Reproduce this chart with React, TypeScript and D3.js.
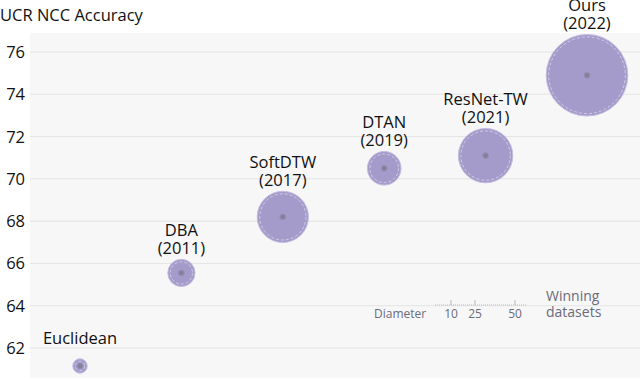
import React from 'react';
import * as d3 from 'd3';

const methods = ['Euclidean', 'DBA', 'SoftDTW', 'DTAN', 'ResNet-TW', 'Ours'];
const years = ['', '(2011)', '(2017)', '(2019)', '(2021)', '(2022)'];
const accuracy = [61.15, 65.55, 68.2, 70.5, 71.1, 74.9];
const wins = [9, 17, 32, 21, 34, 51];
const yTicks = [62, 64, 66, 68, 70, 72, 74, 76];
const legendTicks = [10, 25, 50];

const W = 640;
const H = 380;
const font = '"Open Sans", Roboto, sans-serif';

const App = () => {
  const plot = { left: 30, top: 33, right: W, bottom: 378 };
  const x = d3.scalePoint<string>().domain(methods).range([80, 587]);
  const y = d3.scaleLinear().domain([62, 76]).range([348, 52]);
  const diam = d3.scaleLinear().domain([0, 50]).range([0, 80]);

  // legend axis uses the same px per dataset as the bubbles
  const legendX0 = 435;
  const legendY = 305;
  const lx = (v: number) => legendX0 + diam(v);

  return (
    <svg width={W} height={H} style={{ position: 'absolute', left: 0, top: 0 }}>
      <rect x={plot.left} y={plot.top} width={plot.right - plot.left} height={plot.bottom - plot.top} fill="#f7f7f7" />
      {yTicks.map((t) => (
        <g key={t}>
          <line x1={plot.left} x2={plot.right} y1={y(t)} y2={y(t)} stroke="#e4e4e4" strokeWidth={1} />
          <text x={25} y={y(t) + 6} textAnchor="end" fontFamily={font} fontSize={16.5} fontWeight={500} fill="#111">
            {t}
          </text>
        </g>
      ))}
      <text x={0} y={21} fontFamily={font} fontSize={16.5} fontWeight={500} fill="#111">
        UCR NCC Accuracy
      </text>

      {/* size legend */}
      <line x1={legendX0} x2={526} y1={legendY} y2={legendY} stroke="#b8b8c4" strokeWidth={1} strokeDasharray="1 1" />
      {legendTicks.map((t) => (
        <g key={t}>
          <line x1={lx(t)} x2={lx(t)} y1={legendY} y2={legendY - 5} stroke="#b8b8c4" />
          <text x={lx(t)} y={318} textAnchor="middle" fontFamily={font} fontSize={12} fill="#6b6b7b">
            {t}
          </text>
        </g>
      ))}
      <text x={374} y={318} fontFamily={font} fontSize={12} fill="#6b6b7b">
        Diameter
      </text>
      <text x={546} y={301} fontFamily={font} fontSize={14} fill="#6b6b7b">
        Winning
      </text>
      <text x={546} y={317} fontFamily={font} fontSize={14} fill="#6b6b7b">
        datasets
      </text>

      {methods.map((m, i) => {
        const cx = x(m) as number;
        const cy = y(accuracy[i]);
        const r = diam(wins[i]) / 2;
        const top = cy - r;
        return (
          <g key={m}>
            <circle cx={cx} cy={cy} r={r} fill="#a59bca" stroke="#c4bce0" strokeWidth={1} />
            <circle cx={cx} cy={cy} r={Math.max(r - 2.5, 1)} fill="none" stroke="#ffffff" strokeWidth={0.8} strokeDasharray="3 2" opacity={0.6} />
            <circle cx={cx} cy={cy} r={3} fill="#85819a" stroke="#9a93bf" strokeWidth={1} />
            {years[i] ? (
              <>
                <text x={cx} y={top - 23} textAnchor="middle" fontFamily={font} fontSize={16.5} fontWeight={500} fill="#111">
                  {m}
                </text>
                <text x={cx} y={top - 5} textAnchor="middle" fontFamily={font} fontSize={16.5} fontWeight={500} fill="#111">
                  {years[i]}
                </text>
              </>
            ) : (
              <text x={cx} y={top - 15} textAnchor="middle" fontFamily={font} fontSize={16.5} fontWeight={500} fill="#111">
                {m}
              </text>
            )}
          </g>
        );
      })}
    </svg>
  );
};

export default App;
